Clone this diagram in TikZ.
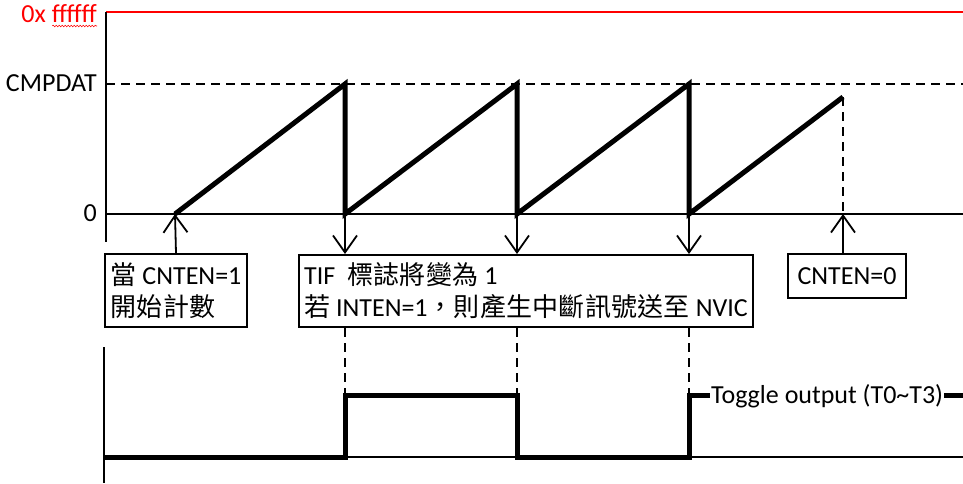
\documentclass[tikz,border=0pt]{standalone}
\usepackage{fontspec}
\setmainfont{Carlito}
\newfontfamily\cjk[LetterSpace=1]{Noto Sans CJK TC}
\usetikzlibrary{arrows.meta,decorations.pathmorphing}
\begin{document}
\begin{tikzpicture}[x=1pt,y=-1pt,
  axisline/.style={line width=2pt},
  sig/.style={line width=5pt, line join=miter},
  dsh/.style={line width=1.8pt, dash pattern=on 9pt off 6pt},
  arr/.style={line width=1.8pt, -{Straight Barb[length=17pt,width=24pt]}},
  box/.style={draw, line width=2pt, anchor=north west, inner sep=0pt, fill=white,
              font=\fontsize{26}{32}\selectfont},
  lab/.style={font=\fontsize{26}{30}\selectfont, inner sep=0pt}]
\useasboundingbox (0,0) rectangle (963,483);
% upper chart coordinates
\coordinate (ytop) at (106,12);
\coordinate (ybot) at (106,242);
\coordinate (o) at (106,214);
\coordinate (oend) at (963,214);
\coordinate (c0) at (106,84);
\coordinate (cend) at (963,84);
\coordinate (s0) at (175,214);
\coordinate (p1) at (345,84);
\coordinate (z1) at (345,214);
\coordinate (p2) at (517,84);
\coordinate (z2) at (517,214);
\coordinate (p3) at (689,84);
\coordinate (z3) at (689,214);
\coordinate (e) at (843,97);
\coordinate (ez) at (843,214);
% labels
\node[lab, anchor=base east, red] (lf) at (97,22) {0x ffffff};
\draw[red, line width=0.6pt, decorate, decoration={snake, amplitude=0.8pt, segment length=3pt}]
  ([xshift=31pt,yshift=-4pt]lf.base west) -- ([yshift=-4pt]lf.base east);
\node[lab, anchor=base east] (lcmp) at (97,91) {CMPDAT};
\node[lab, anchor=base east] (lzero) at (97,221) {0};
% axes
\draw[red, line width=2pt] (ytop) -- (963,12);
\draw[axisline] (ytop) -- (ybot);
\draw[axisline] (o) -- (oend);
\draw[dsh] (c0) -- (cend);
% sawtooth
\draw[sig] (s0) -- (p1) -- (z1) -- (p2) -- (z2) -- (p3) -- (z3) -- (e);
\draw[dsh] (e) -- (ez);
% boxes
\node[box, minimum width=142pt, minimum height=73pt, align=left] (b1) at (104,253)
  {{\cjk 當} CNTEN=1\\{\cjk 開始計數}};
\node[box, minimum width=454pt, minimum height=72pt, align=left] (b2) at (298,254)
  {TIF\hspace{12pt}{\cjk 標誌將變為} 1\\{\cjk 若} INTEN=1{\cjk ，則產生中斷訊號送至} NVIC};
\node[box, minimum width=118pt, minimum height=44pt] (b3) at (787,253) {CNTEN=0};
% arrows
\draw[arr] (b1.north) -- (s0);
\draw[arr] (z1) -- (b2.north -| z1);
\draw[arr] (z2) -- (b2.north -| z2);
\draw[arr] (z3) -- (b2.north -| z3);
\draw[arr] (b3.north -| ez) -- (ez);
% lower chart
\coordinate (ltop) at (104,347);
\coordinate (lbot) at (104,483);
\coordinate (l0) at (104,457);
\coordinate (lend) at (963,457);
\coordinate (h1) at (345,395);
\coordinate (g1) at (345,457);
\coordinate (h2) at (517,395);
\coordinate (g2) at (517,457);
\coordinate (h3) at (689,395);
\coordinate (g3) at (689,457);
\draw[axisline] (ltop) -- (lbot);
\draw[line width=1.5pt] (l0) -- (lend);
\draw[dsh] (b2.south -| h1) -- (h1);
\draw[dsh] (b2.south -| h2) -- (h2);
\draw[dsh] (b2.south -| h3) -- (h3);
\node[lab, anchor=base west] (tog) at (711,403) {Toggle output (T0\textasciitilde T3)};
\draw[sig] (l0) -- (g1) -- (h1) -- (h2) -- (g2) -- (g3) -- (h3) -- ([xshift=-1pt]tog.west |- h3);
\draw[sig] ([xshift=1pt]tog.east |- h3) -- (963,395);
\end{tikzpicture}
\end{document}
